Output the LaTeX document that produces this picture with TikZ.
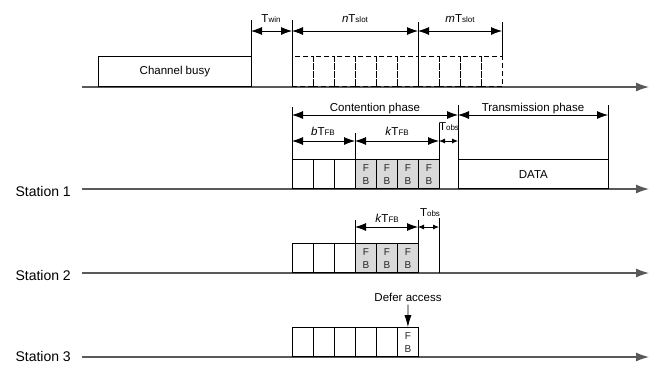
\documentclass[tikz,border=0pt]{standalone}
\usepackage{fontspec}
\setmainfont{Liberation Sans}
\usetikzlibrary{arrows.meta}

% small index after T
\newcommand{\Tidx}[1]{T{\fontsize{8}{8}\selectfont #1}}

\tikzset{
  axis/.style={line width=1.3pt, black!65, -{Latex[length=13pt,width=9pt]}},
  dim/.style={line width=0.8pt, {Latex[length=11pt,width=8pt]}-{Latex[length=11pt,width=8pt]}},
  dimsmall/.style={line width=0.8pt, {Latex[length=6pt,width=5pt]}-{Latex[length=6pt,width=5pt]}},
  mark line/.style={line width=0.8pt},
  slot/.style={draw, line width=0.8pt, minimum width=21pt, minimum height=29pt,
    inner sep=0pt, anchor=south west},
  fbslot/.style={slot, fill=black!15, align=center, text=black!85,
    font=\fontsize{10}{13}\selectfont},
  idle/.style={draw, dash pattern=on 5pt off 3pt, line width=0.8pt, minimum width=21pt,
    minimum height=30pt, inner sep=0pt, anchor=south west},
  station/.style={anchor=base west, font=\fontsize{14}{16}\selectfont},
  lbl/.style={anchor=base}
}

\begin{document}
\begin{tikzpicture}[x=1pt, y=-1pt, font=\fontsize{11.5}{13}\selectfont]
\useasboundingbox (0,0) rectangle (649,365);

% time lines
\draw[axis] (82,87) -- (649,87);
\draw[axis] (82,189) -- (649,189);
\draw[axis] (82,273) -- (649,273);
\draw[axis] (82,357) -- (649,357);

\node[station] (st1) at (12,196) {Station 1};
\node[station] (st2) at (12,280) {Station 2};
\node[station] (st3) at (12,361) {Station 3};

% channel
\node[draw, line width=0.8pt, minimum width=153pt, minimum height=30pt, inner sep=0pt,
  anchor=south west] (busy) at (98,87) {Channel busy};
\foreach \i in {0,...,9}
  \node[idle] (idle\i) at (292+21*\i,87) {};

\draw[mark line] (251,20) -- (251,87);
\draw[mark line] (292,20) -- (292,87);
\draw[mark line] (418,22) -- (418,87);
\draw[mark line] (502,22) -- (502,57);

\draw[dim] (251,31) -- (292,31);
\draw[dim] (292,31) -- (418,31);
\draw[dim] (418,31) -- (502,31);
\node[lbl] (twin) at (271,22) {\Tidx{win}};
\node[lbl] (nslot) at (355,22) {\textit{n}\Tidx{slot}};
\node[lbl] (mslot) at (460,22) {\textit{m}\Tidx{slot}};

% station 1
\foreach \i in {0,1,2}
  \node[slot] (a\i) at (292+21*\i,189) {};
\foreach \i in {3,...,6}
  \node[fbslot] (a\i) at (292+21*\i,189) {F\\B};
\node[draw, line width=0.8pt, minimum width=150pt, minimum height=29pt, inner sep=0pt,
  anchor=south west] (data) at (458,189) {DATA};

\draw[mark line] (292,107) -- (292,160);
\draw[mark line] (458,105) -- (458,189);
\draw[mark line] (608,105) -- (608,189);
\draw[mark line] (355,133) -- (355,160);
\draw[mark line] (439,123) -- (439,189);

\draw[dim] (292,115) -- (458,115);
\draw[dim] (458,115) -- (608,115);
\node[lbl] (cont) at (375,111) {Contention phase};
\node[lbl] (trans) at (533,111) {Transmission phase};

\draw[dim] (292,141) -- (355,141);
\draw[dim] (355,141) -- (439,141);
\draw[dimsmall] (439,141) -- (458,141);
\node[lbl] (b1) at (323,135) {\textit{b}\Tidx{FB}};
\node[lbl] (k1) at (397,135) {\textit{k}\Tidx{FB}};
\node[lbl] (obs1) at (449,130) {\Tidx{obs}};

% station 2
\foreach \i in {0,1,2}
  \node[slot] (b\i) at (292+21*\i,273) {};
\foreach \i in {3,4,5}
  \node[fbslot] (b\i) at (292+21*\i,273) {F\\B};

\draw[mark line] (355,220) -- (355,244);
\draw[mark line] (418,220) -- (418,244);
\draw[mark line] (439,218) -- (439,273);
\draw[dim] (355,227) -- (418,227);
\draw[dimsmall] (418,227) -- (439,227);
\node[lbl] (k2) at (387,222) {\textit{k}\Tidx{FB}};
\node[lbl] (obs2) at (430,216) {\Tidx{obs}};

% station 3
\foreach \i in {0,...,4}
  \node[slot] (c\i) at (292+21*\i,357) {};
\node[slot, align=center, text=black!85, font=\fontsize{10}{13}\selectfont]
  (c5) at (397,357) {F\\B};

\node[lbl] (defer) at (408,301) {Defer access};
\draw[line width=0.8pt, -{Latex[length=12pt,width=7pt]}] (defer.south) -- (c5.north);

\end{tikzpicture}
\end{document}
